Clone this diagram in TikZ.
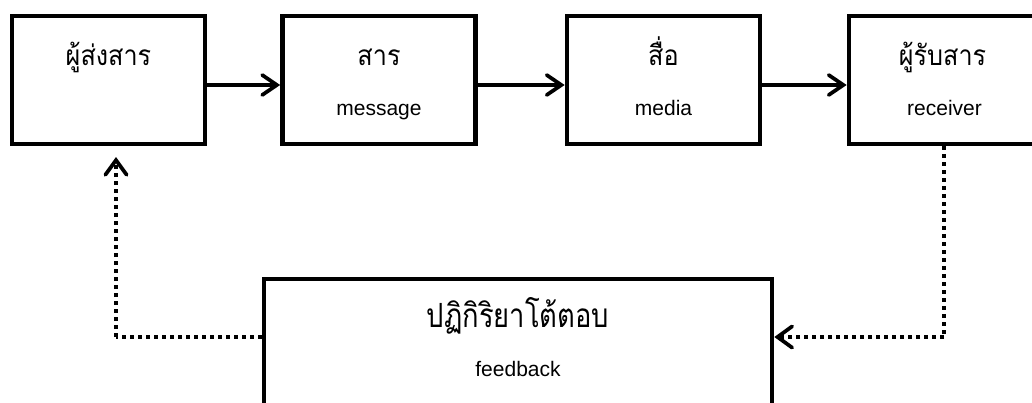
\documentclass[tikz,border=0pt]{standalone}
\usepackage{fontspec}
\newfontfamily\thaifont[Script=Thai, FakeStretch=0.9]{Loma}
\newfontfamily\thaifontb[Script=Thai, FakeStretch=0.82]{Loma}
\newfontfamily\enfont{Liberation Sans}
\usetikzlibrary{arrows.meta}
\tikzset{
  box/.style={draw, line width=3.5pt, minimum width=144.75pt, minimum height=96pt, inner sep=0pt},
  thtitle/.style={anchor=base, inner sep=0pt, font=\thaifont\fontsize{21pt}{25pt}\selectfont},
  thbig/.style={anchor=base, inner sep=0pt, font=\thaifontb\fontsize{25pt}{29pt}\selectfont},
  entext/.style={anchor=base, inner sep=0pt, font=\enfont\fontsize{15.75pt}{18pt}\selectfont},
  arr/.style={line width=2.8pt, -{Straight Barb[length=11pt, width=15pt, line width=2.8pt, line cap=round]}},
  dotarr/.style={line width=3pt, dash pattern=on 3pt off 3pt, -{Straight Barb[length=11pt, width=16pt, line width=2.8pt, line cap=round]}},
  dotline/.style={line width=3pt, dash pattern=on 3pt off 3pt}
}
\begin{document}
\begin{tikzpicture}[x=0.75pt, y=-0.75pt]
\fill[white] (0,0) rectangle (1032,403);
\useasboundingbox (0,0) rectangle (1032,403);
\clip (0,0) rectangle (1032,403);
% boxes
\node[box] (b1) at (108.5,80) {};
\node[box] (b2) at (379,80) {};
\node[box] (b3) at (663.5,80) {};
\node[box] (b4) at (945.5,80) {};
\node[draw, line width=3.5pt, minimum width=381pt, minimum height=130pt, inner sep=0pt] (fb) at (518,365.7) {};
% texts
\node[thtitle] (t1) at (108.5,65) {ผู้ส่งสาร};
\node[thtitle] (t2) at (379,65) {สาร};
\node[entext] (e2) at (379,115) {message};
\node[thtitle] (t3) at (663.5,65) {สื่อ};
\node[entext] (e3) at (663.5,115) {media};
\node[thtitle] (t4) at (942.5,65) {ผู้รับสาร};
\node[entext] (e4) at (944.5,115) {receiver};
\node[thbig] (t5) at (518,327) {ปฏิกิริยาโต้ตอบ};
\node[entext] (e5) at (518,376) {feedback};
% solid arrows
\draw[arr] ([yshift=-3.75pt]b1.east) -- ([yshift=-3.75pt]b2.west);
\draw[arr] ([yshift=-3.75pt]b2.east) -- ([yshift=-3.75pt]b3.west);
\draw[arr] ([yshift=-3.75pt]b3.east) -- ([yshift=-3.75pt]b4.west);
% feedback loop
\coordinate (lc) at (116,337);
\coordinate (lt) at (116,157);
\coordinate (rc) at (944,337);
\draw[dotline] (b4.south -| rc) -- (rc);
\draw[dotarr] (rc) -- (fb.east |- rc);
\draw[dotline] (fb.west |- lc) -- (lc);
\draw[dotarr] (lc) -- (lt);
\end{tikzpicture}
\end{document}
